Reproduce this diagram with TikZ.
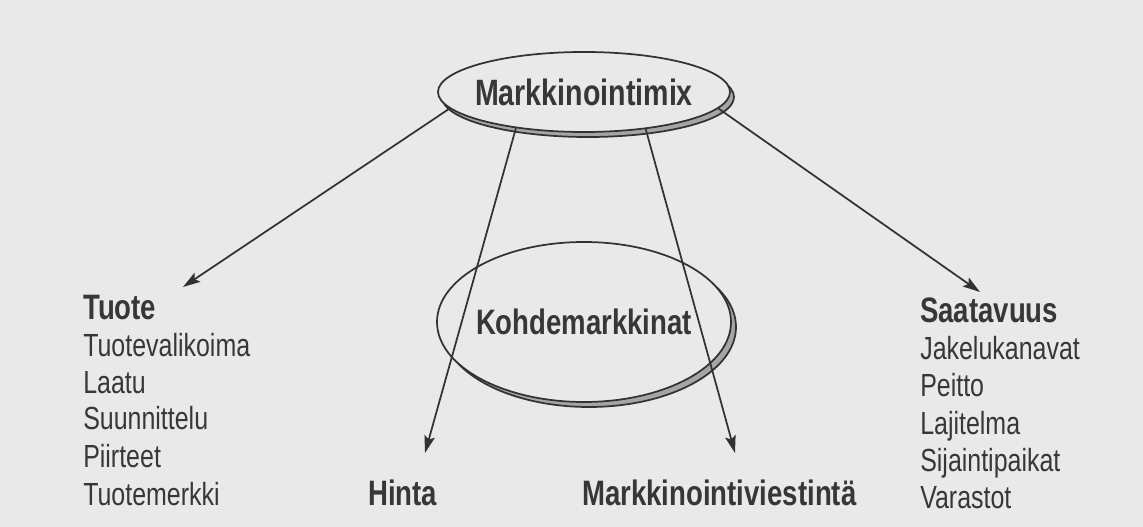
\documentclass[tikz,border=0pt]{standalone}
\usepackage{fontspec}
\setmainfont{Liberation Sans}[FakeStretch=0.78]
\usetikzlibrary{arrows.meta,shapes.geometric}
\definecolor{bgcol}{RGB}{233,233,233}
\definecolor{linecol}{RGB}{50,50,50}
\definecolor{txtcol}{RGB}{55,55,55}
\definecolor{shadecol}{RGB}{165,165,165}
\tikzset{
  ringbox/.style={ellipse, draw=linecol, line width=1.3pt, fill=bgcol, inner sep=0pt},
  ringshadow/.style={draw=linecol, line width=1.3pt, fill=shadecol},
  headtext/.style={inner sep=0pt, text=txtcol, font=\fontsize{26.5pt}{30pt}\selectfont\bfseries},
  itemtext/.style={inner sep=0pt, anchor=base west, text=txtcol, font=\fontsize{24pt}{28pt}\selectfont},
  headitem/.style={headtext, anchor=base west},
  arrowline/.style={draw=linecol, line width=1.3pt, -{Stealth[length=13pt,width=8pt,inset=2.5pt]}}
}
\begin{document}
\begin{tikzpicture}[x=0.75pt,y=-0.75pt]
\fill[bgcol] (0,0) rectangle (1143,527);
\useasboundingbox (0,0) rectangle (1143,527);

% shadows
\path[ringshadow] (588,97) ellipse [x radius=146, y radius=40];
\path[ringshadow] (589,327) ellipse [x radius=147, y radius=80];

% ellipses
\node[ringbox, minimum width=219pt, minimum height=60pt] (mix) at (584,92) {};
\node[headtext, font=\fontsize{27.5pt}{30pt}\selectfont\bfseries] (mixlabel) at (mix.center) {Markkinointimix};
\node[ringbox, minimum width=220.5pt, minimum height=120pt] (kohde) at (584,322) {};
\node[headtext] (kohdelabel) at (kohde.center) {Kohdemarkkinat};

% Tuote
\node[headitem] (tuote) at (83,320) {Tuote};
\node[itemtext] (t1) at (83,357) {Tuotevalikoima};
\node[itemtext] (t2) at (83,393) {Laatu};
\node[itemtext] (t3) at (83,430) {Suunnittelu};
\node[itemtext] (t4) at (83,467) {Piirteet};
\node[itemtext] (t5) at (83,505) {Tuotemerkki};

% Saatavuus
\node[headitem] (saat) at (920,323) {Saatavuus};
\node[itemtext] (s1) at (920,360) {Jakelukanavat};
\node[itemtext] (s2) at (920,397) {Peitto};
\node[itemtext] (s3) at (920,434) {Lajitelma};
\node[itemtext] (s4) at (920,471) {Sijaintipaikat};
\node[itemtext] (s5) at (920,508) {Varastot};

% bottom
\node[headitem] (hinta) at (368,505) {Hinta};
\node[headitem] (viest) at (582,505) {Markkinointiviestintä};

% arrow tips
\coordinate (tipT) at (183,287);
\coordinate (tipS) at (980,292);
\coordinate (tipH) at (425,453);
\coordinate (tipM) at (735,453);

\draw[arrowline] (mix.187) -- (tipT);
\draw[arrowline] (mix.353) -- (tipS);
\draw[arrowline] (mix.208) -- (tipH);
\draw[arrowline] (mix.329) -- (tipM);
\end{tikzpicture}
\end{document}
